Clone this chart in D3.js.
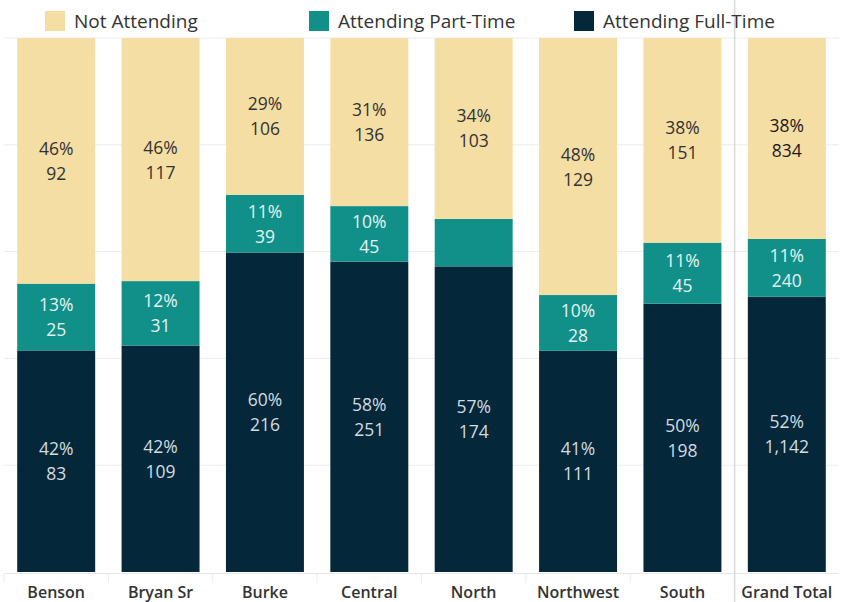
<!DOCTYPE html>
<html lang="en">
<head>
<meta charset="UTF-8">
<title>Attendance by school</title>
<script src="https://cdn.jsdelivr.net/npm/d3@7"></script>
<style>
  body { margin: 0; background: #fff; }
  svg { display: block; font-family: "Open Sans", sans-serif; }
</style>
</head>
<body>
<svg></svg>
<script>
// data (head counts)
var schools = ['Benson', 'Bryan Sr', 'Burke', 'Central', 'North', 'Northwest', 'South', 'Grand Total'];
var fullTime = [83, 109, 216, 251, 174, 111, 198, 1142];
var partTime = [25, 31, 39, 45, 27, 28, 45, 240];
var notAttending = [92, 117, 106, 136, 103, 129, 151, 834];
var seriesNames = ['Attending Full-Time', 'Attending Part-Time', 'Not Attending'];
var gridTicks = [0.2, 0.4, 0.6, 0.8, 1.0];

var colors = { 'Attending Full-Time': '#04283a', 'Attending Part-Time': '#11908a', 'Not Attending': '#f5dea4' };
var labelColors = { 'Attending Full-Time': '#d3dbe0', 'Attending Part-Time': '#e3f3f1', 'Not Attending': '#333333' };

var width = 843, height = 602;
var svg = d3.select('svg').attr('width', width).attr('height', height);

// build rows
var rows = schools.map(function (s, i) {
  var total = fullTime[i] + partTime[i] + notAttending[i];
  return { school: s, total: total,
    'Attending Full-Time': fullTime[i] / total,
    'Attending Part-Time': partTime[i] / total,
    'Not Attending': notAttending[i] / total,
    counts: { 'Attending Full-Time': fullTime[i], 'Attending Part-Time': partTime[i], 'Not Attending': notAttending[i] } };
});

var x = d3.scaleBand().domain(schools).range([4, 839]).paddingInner(0.253).paddingOuter(0.1265);
var y = d3.scaleLinear().domain([0, 1]).range([572, 38]);

// gridlines
svg.append('g').selectAll('line').data(gridTicks).join('line')
  .attr('x1', 4).attr('x2', 839)
  .attr('y1', function (d) { return y(d); }).attr('y2', function (d) { return y(d); })
  .attr('stroke', '#ececec').attr('stroke-width', 1);

// baseline + small dividers between categories
svg.append('line').attr('x1', 4).attr('x2', 839).attr('y1', 573.5).attr('y2', 573.5)
  .attr('stroke', '#e6e6e6');
svg.append('g').selectAll('line').data(schools).join('line')
  .attr('x1', function (d) { return x(d) - x.step() * x.paddingInner() / 2; })
  .attr('x2', function (d) { return x(d) - x.step() * x.paddingInner() / 2; })
  .attr('y1', 573).attr('y2', 583)
  .attr('stroke', '#ececec');

var stack = d3.stack().keys(seriesNames);
var layers = stack(rows);

var g = svg.append('g');
layers.forEach(function (layer) {
  var key = layer.key;
  g.append('g').selectAll('rect').data(layer).join('rect')
    .attr('x', function (d) { return x(d.data.school); })
    .attr('width', x.bandwidth())
    .attr('y', function (d) { return y(d[1]); })
    .attr('height', function (d) { return y(d[0]) - y(d[1]); })
    .attr('fill', colors[key]);

  // tableau drops labels that don't fit (North part-time)
  var lab = g.append('g').selectAll('text')
    .data(layer.filter(function (d) { return y(d[0]) - y(d[1]) > 52; }))
    .join('text')
    .attr('text-anchor', 'middle')
    .attr('font-size', 17.5)
    .attr('fill', function (d) {
      return (d.data.school === 'Grand Total' && key === 'Not Attending') ? '#1a1a1a' : labelColors[key];
    })
    .attr('x', function (d) { return x(d.data.school) + x.bandwidth() / 2; })
    .attr('y', function (d) { return (y(d[0]) + y(d[1])) / 2; });
  lab.append('tspan')
    .attr('x', function (d) { return x(d.data.school) + x.bandwidth() / 2; })
    .attr('dy', -6)
    .text(function (d) { return Math.round(d.data[key] * 100) + '%'; });
  lab.append('tspan')
    .attr('x', function (d) { return x(d.data.school) + x.bandwidth() / 2; })
    .attr('dy', 25)
    .text(function (d) { return d3.format(',')(d.data.counts[key]); });
});

// separator before grand total
var sepX = x('Grand Total') - x.step() * x.paddingInner() / 2;
svg.append('line').attr('x1', sepX).attr('x2', sepX).attr('y1', 0).attr('y2', 602)
  .attr('stroke', '#d9d9d9').attr('stroke-width', 1.5);

// x axis labels
svg.append('g').selectAll('text').data(schools).join('text')
  .attr('x', function (d) { return x(d) + x.bandwidth() / 2; })
  .attr('y', 598)
  .attr('text-anchor', 'middle')
  .attr('font-size', 16)
  .attr('font-weight', 600)
  .attr('fill', '#333')
  .text(function (d) { return d; });

// legend
var legend = [
  { name: 'Not Attending', x: 45 },
  { name: 'Attending Part-Time', x: 309 },
  { name: 'Attending Full-Time', x: 574 }
];
var lg = svg.append('g').selectAll('g').data(legend).join('g')
  .attr('transform', function (d) { return 'translate(' + d.x + ',11)'; });
lg.append('rect').attr('width', 20).attr('height', 20)
  .attr('fill', function (d) { return colors[d.name]; });
lg.append('text').attr('x', 29).attr('y', 17)
  .attr('font-size', 19).attr('fill', '#333')
  .text(function (d) { return d.name; });
</script>
</body>
</html>
